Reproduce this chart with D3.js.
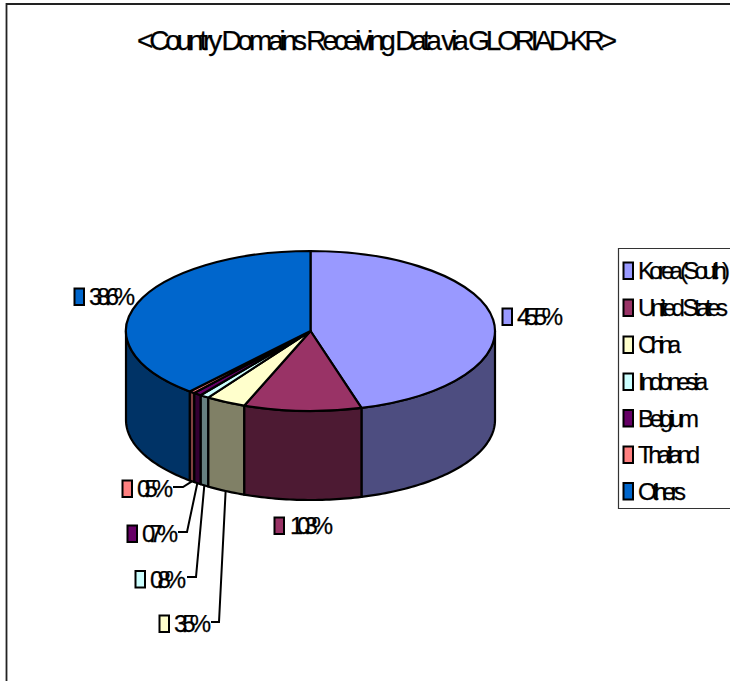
<!DOCTYPE html>
<html><head><meta charset="utf-8">
<script src="https://cdnjs.cloudflare.com/ajax/libs/d3/7.8.5/d3.min.js"></script>
<style>html,body{margin:0;padding:0;background:#fff;overflow:hidden}svg{display:block}text{font-family:"Liberation Sans",Arial,sans-serif;fill:#000;stroke:#000;stroke-width:.25px}</style>
</head><body><svg id="c" width="730" height="681"></svg>
<script>
const titleText = "<Country Domains Receiving Data via GLORIAD-KR>";
const categories = ["Korea (South)","United States","China","Indonesia","Belgium","Thailand","Others"];
const values = [45.5,10.3,3.5,0.8,0.7,0.5,38.6];
const colors = ["#9999FF","#993366","#FFFFCC","#CCFFFF","#660066","#FF8080","#0066CC"];

// layout, separate from the data
const cx=310.5, cy=331, rx=184.5, ry=80, depth=89;
const labelLayout = [
 {sx:502,cy:316.5,tx:517,w:46},
 {sx:274,cy:525.5,tx:290,w:43},
 {sx:159,cy:623.5,tx:174,w:37,elbow:[219,622],from:211},
 {sx:135,cy:579,tx:150,w:36,elbow:[196,577],from:187},
 {sx:127,cy:533.5,tx:142,w:36,elbow:[187,532],from:178},
 {sx:122,cy:488.5,tx:137,w:36,elbow:[183,487],from:173},
 {sx:74,cy:296.5,tx:89,w:46}
];
const legendW = [92,90,43,70,61,62,48];
const legendRowY = [270.5,307.5,344.5,381.5,418,454.5,491];

const svg=d3.select("#c");
// chart frame
svg.append("path").attr("d","M6.5,681V4H730").attr("fill","none").attr("stroke","#222").attr("stroke-width",1.8);

svg.append("text").attr("x",137).attr("y",50).attr("font-size",28)
  .attr("textLength",480).attr("lengthAdjust","spacing").text(titleText);

const arcs=d3.pie().sort(null).value(d=>d)(values);
const px=t=>cx+rx*Math.sin(t), py=t=>cy-ry*Math.cos(t);
const half=c=>{const r=d3.rgb(c);return d3.rgb(r.r/2,r.g/2,r.b/2).formatHex();};
const line=d3.line();
const sample=(a,b)=>{const n=Math.max(2,Math.ceil((b-a)/0.02));return d3.range(n+1).map(i=>a+(b-a)*i/n);};

// side wall: only the front half is visible
const gSide=svg.append("g");
arcs.forEach((d,i)=>{
  const a=Math.max(d.startAngle,Math.PI/2), b=Math.min(d.endAngle,Math.PI*1.5);
  if(b<=a) return;
  const ts=sample(a,b);
  const pts=ts.map(t=>[px(t),py(t)]).concat(ts.slice().reverse().map(t=>[px(t),py(t)+depth]));
  gSide.append("path").attr("d",line(pts)+"Z").attr("fill",half(colors[i]))
    .attr("stroke","#000").attr("stroke-width",2.2).attr("stroke-linejoin","round");
});

// top face
const arc=d3.arc().innerRadius(0).outerRadius(rx);
const gTop=svg.append("g").attr("transform",`translate(${cx},${cy}) scale(1,${ry/rx})`);
gTop.selectAll("path").data(arcs).join("path").attr("d",arc)
  .attr("fill",(d,i)=>colors[i]).attr("stroke","#000").attr("stroke-width",2.2)
  .attr("stroke-linejoin","round").attr("vector-effect","non-scaling-stroke");

// labels
const fmt=d3.format(".1f");
const gL=svg.append("g");
arcs.forEach((d,i)=>{
  const L=labelLayout[i];
  if(L.elbow){
    const m=(d.startAngle+d.endAngle)/2;
    gL.append("path").attr("d",line([[L.from,L.elbow[1]],L.elbow,[px(m),py(m)+depth]]))
      .attr("fill","none").attr("stroke","#000").attr("stroke-width",2);
  }
  gL.append("rect").attr("x",L.sx+.5).attr("y",L.cy-8).attr("width",9.5).attr("height",16.5)
    .attr("fill",colors[i]).attr("stroke","#000").attr("stroke-width",2);
  gL.append("text").attr("x",L.tx).attr("y",L.cy+8.5).attr("font-size",24)
    .attr("textLength",L.w).attr("lengthAdjust","spacing").text(fmt(values[i])+"%");
});

// legend
const gLeg=svg.append("g");
gLeg.append("path").attr("d","M730,248.5H618.5V508.5H730").attr("fill","#fff").attr("stroke","#333").attr("stroke-width",1.2);
categories.forEach((c,i)=>{
  const y=legendRowY[i];
  gLeg.append("rect").attr("x",623.5).attr("y",y-8).attr("width",9.5).attr("height",16.5)
    .attr("fill",colors[i]).attr("stroke","#000").attr("stroke-width",2);
  gLeg.append("text").attr("x",638).attr("y",y+8.5).attr("font-size",24)
    .attr("textLength",legendW[i]).attr("lengthAdjust","spacing").text(c);
});
</script></body></html>
